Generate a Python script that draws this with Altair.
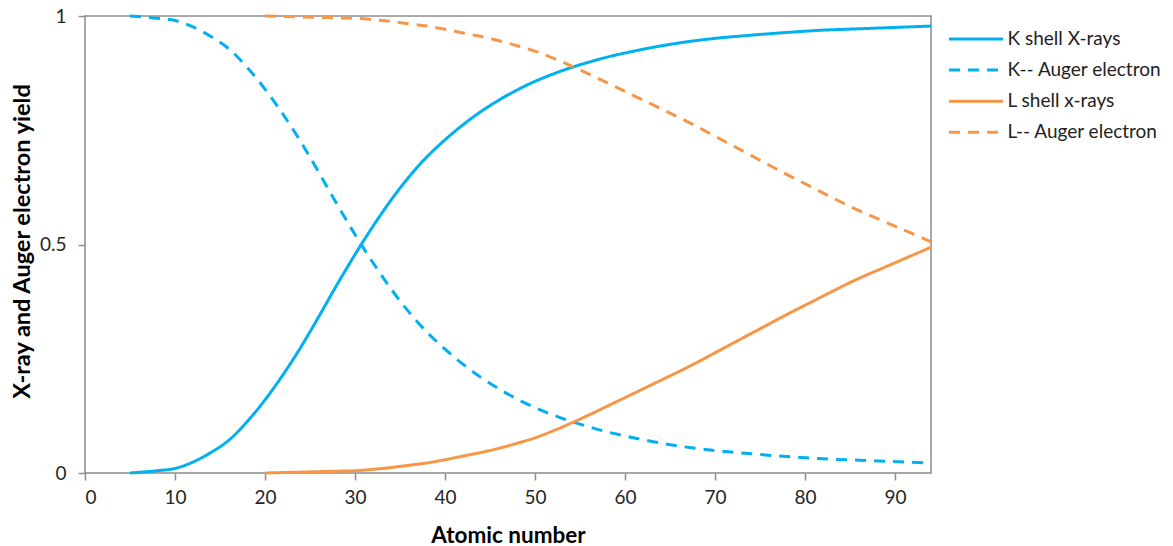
import altair as alt
import pandas as pd

series_names = ["K shell X-rays", "K-- Auger electron", "L shell x-rays", "L-- Auger electron"]

k_z = [5, 8, 10, 12, 14, 16, 18, 20, 22, 24, 26, 28, 30, 32, 34, 36, 38, 40, 42, 44, 46, 48,
       50, 52, 54, 56, 58, 60, 63, 66, 70, 74, 78, 82, 86, 90, 94]
k_xray = [0.000, 0.005, 0.010, 0.024, 0.045, 0.072, 0.112, 0.160, 0.215, 0.276, 0.343, 0.412,
          0.478, 0.540, 0.597, 0.648, 0.692, 0.729, 0.762, 0.791, 0.816, 0.838, 0.857, 0.873,
          0.887, 0.899, 0.910, 0.919, 0.931, 0.941, 0.951, 0.958, 0.964, 0.969, 0.972, 0.975, 0.978]
k_auger = [1.000, 0.995, 0.990, 0.976, 0.955, 0.928, 0.888, 0.840, 0.785, 0.724, 0.657, 0.588,
           0.522, 0.460, 0.403, 0.352, 0.308, 0.271, 0.238, 0.209, 0.184, 0.162, 0.143, 0.127,
           0.113, 0.101, 0.090, 0.081, 0.069, 0.059, 0.049, 0.042, 0.036, 0.031, 0.028, 0.025, 0.022]

l_z = [20, 22, 24, 26, 28, 30, 32, 34, 36, 38, 40, 42, 44, 46, 48, 50, 52, 54, 56, 58, 60,
       62, 64, 66, 68, 70, 72, 74, 76, 78, 80, 82, 84, 86, 88, 90, 92, 94]
l_xray = [0.000, 0.001, 0.002, 0.003, 0.004, 0.005, 0.008, 0.012, 0.017, 0.022, 0.029, 0.037,
          0.045, 0.054, 0.065, 0.077, 0.092, 0.109, 0.127, 0.146, 0.165, 0.184, 0.203, 0.222,
          0.242, 0.263, 0.284, 0.305, 0.326, 0.347, 0.367, 0.387, 0.407, 0.426, 0.443, 0.460,
          0.477, 0.494]
l_auger = [1.000, 0.999, 0.998, 0.997, 0.996, 0.995, 0.992, 0.988, 0.983, 0.978, 0.971, 0.963,
           0.955, 0.946, 0.935, 0.923, 0.908, 0.891, 0.873, 0.854, 0.835, 0.816, 0.797, 0.778,
           0.758, 0.737, 0.716, 0.695, 0.674, 0.653, 0.633, 0.613, 0.593, 0.574, 0.557, 0.540,
           0.523, 0.506]

x_ticks = [0, 10, 20, 30, 40, 50, 60, 70, 80, 90]
y_ticks = [0, 0.5, 1]

rows = []
for name, zs, vs in [(series_names[0], k_z, k_xray), (series_names[1], k_z, k_auger),
                     (series_names[2], l_z, l_xray), (series_names[3], l_z, l_auger)]:
    for z, v in zip(zs, vs):
        rows.append({"Z": z, "yield": v, "series": name})
df = pd.DataFrame(rows)

blue = "#00B0F0"
orange = "#F79646"
dash = [11, 8]

legend = alt.Legend(
    title=None, orient="none", legendX=864, legendY=12.5,
    symbolType="M-3,0L3,0", symbolSize=324, symbolStrokeWidth=3,
    symbolOffset=16.5, labelOffset=21, rowPadding=10.1, padding=0,
    labelFontSize=19, labelFont="Lato", labelColor="#222222",
)

chart = alt.Chart(df).mark_line(strokeWidth=3, interpolate="monotone").encode(
    x=alt.X("Z:Q", scale=alt.Scale(domain=[0, 94], nice=False, zero=False),
            axis=alt.Axis(values=x_ticks, title="Atomic number", titleX=423, titleY=62,
                          titleBaseline="middle", titleAlign="center", labelPadding=8,
                          titleFontSize=22.5)),
    y=alt.Y("yield:Q", scale=alt.Scale(domain=[0, 1], nice=False),
            axis=alt.Axis(values=y_ticks, format="~g", title="X-ray and Auger electron yield",
                          titleX=-63, titleY=225, titleAngle=-90, titleBaseline="middle",
                          titleAlign="center", labelPadding=12, titleFontSize=23.5)),
    color=alt.Color("series:N", scale=alt.Scale(domain=series_names,
                                                range=[blue, blue, orange, orange]),
                    legend=legend),
    strokeDash=alt.StrokeDash("series:N", scale=alt.Scale(domain=series_names,
                                                          range=[[1, 0], dash, [1, 0], dash]),
                              legend=legend),
).properties(
    width=846, height=457,
    autosize=alt.AutoSizeParams(type="none"),
    padding={"left": 85, "top": 16, "right": 242, "bottom": 73},
    background="white",
).configure_view(
    stroke="#8c8c8c", strokeWidth=1.5
).configure_axis(
    domain=False, grid=False, ticks=True, tickColor="#8c8c8c", tickSize=7, tickWidth=1.5,
    labelFont="Lato", labelFontSize=19, labelColor="#262626",
    titleFont="Lato", titleFontWeight="bold", titleColor="#000000",
)

chart.save("out.html", embed_options={"renderer": "svg", "actions": False})
